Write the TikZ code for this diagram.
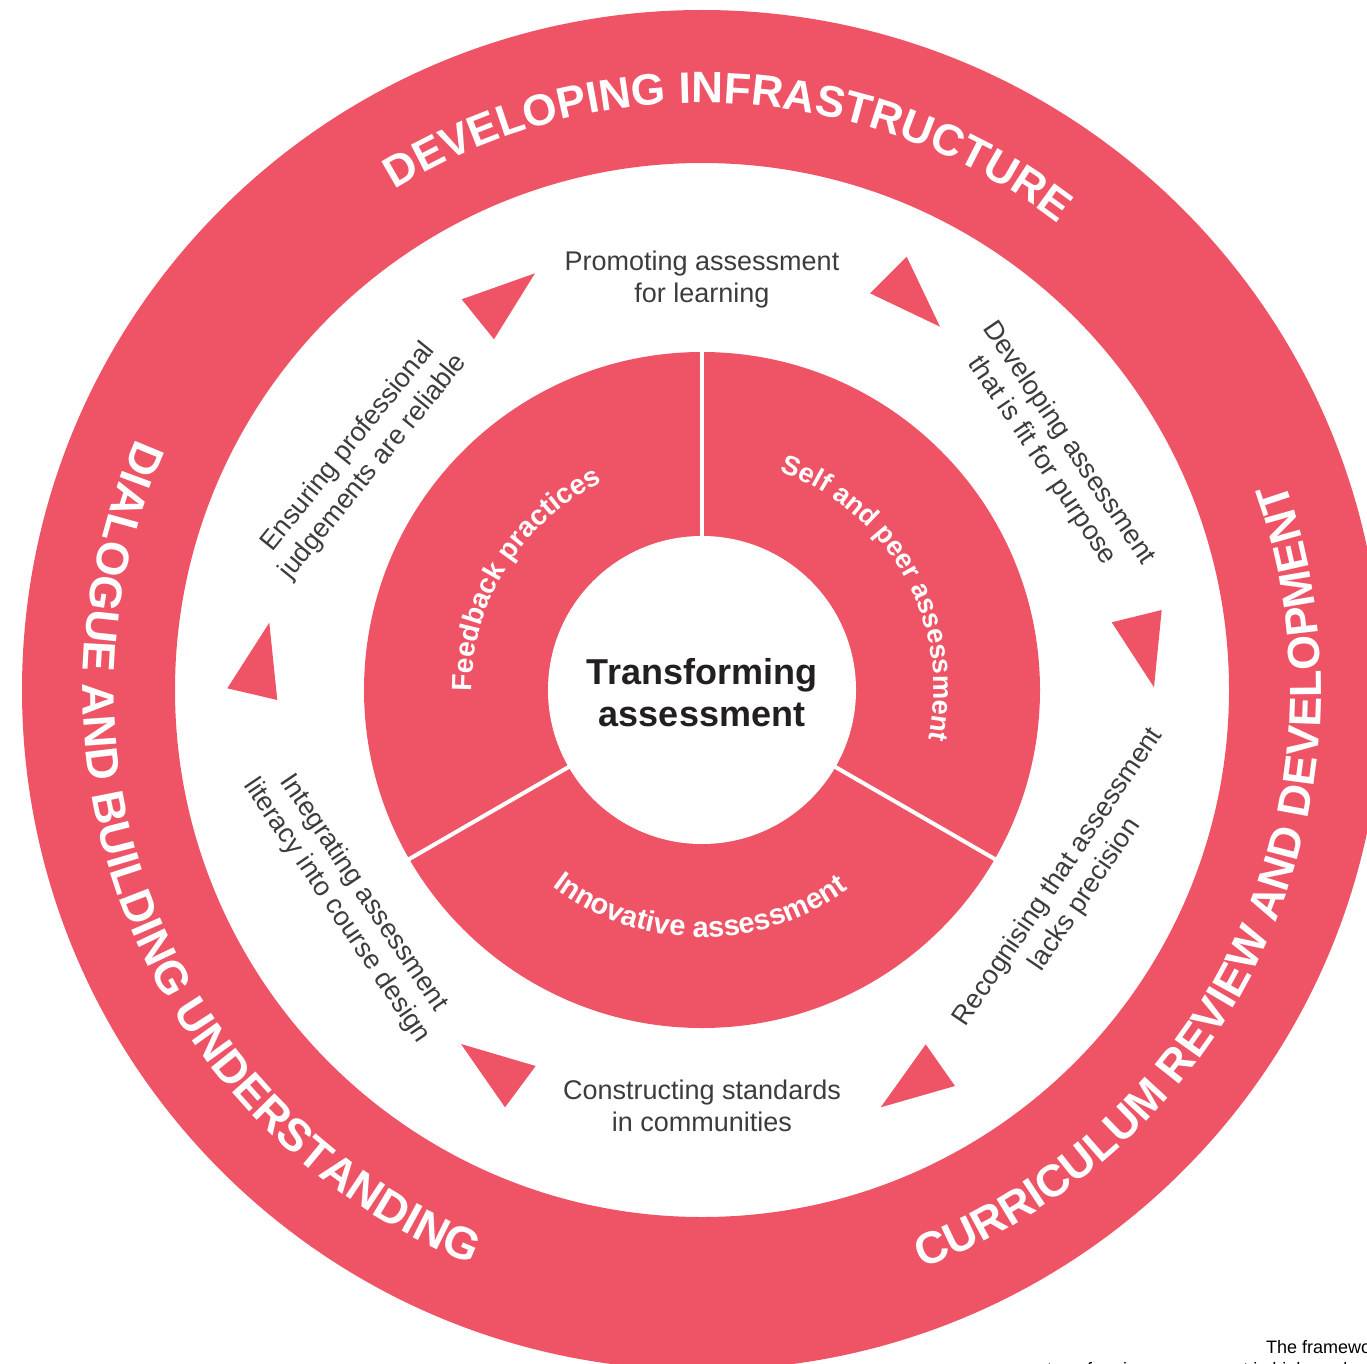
\documentclass[tikz,border=0pt]{standalone}
\usepackage{fontspec}
\setmainfont{Liberation Sans}
\usetikzlibrary{decorations.text}
\definecolor{ringred}{RGB}{239,84,102}
\definecolor{txtgray}{RGB}{60,60,60}
\definecolor{titleblack}{RGB}{35,31,32}
\begin{document}
\begin{tikzpicture}[x=1pt,y=1pt,
  cycletext/.style={font=\fontsize{27}{32}\selectfont, text=txtgray, align=center, inner sep=0pt},
  arrowtri/.style={fill=ringred},
  divider/.style={draw=white, line width=4pt},
  captiontext/.style={font=\fontsize{18}{21}\selectfont, text=black, inner sep=0pt},
]
\useasboundingbox (0,-1364) rectangle (1367,0);
\clip (0,-1364) rectangle (1367,0);
\coordinate (C) at (702,-690);
\begin{scope}[shift={(C)}]
  % outer ring
  \fill[ringred, even odd rule] (0,0) circle[radius=680pt] (0,0) circle[radius=527pt];
  % inner disc
  \fill[ringred] (0,0) circle[radius=338pt];
  \draw[divider] (90:150pt) -- (90:340pt);
  \draw[divider] (210:150pt) -- (210:340pt);
  \draw[divider] (330:150pt) -- (330:340pt);
  \fill[white] (0,0) circle[radius=154pt];
  % outer ring texts
  \path[decorate, decoration={text along path, text align=center,
     text={|\fontsize{44}{44}\selectfont\bfseries\color{white}|DEVELOPING INFRASTRUCTURE}}]
     (167.1:587pt) arc[start angle=167.1, end angle=7.1, radius=587pt];
  \path[decorate, decoration={text along path, text align=center,
     text={|\fontsize{45}{45}\selectfont\bfseries\color{white}|CURRICULUM REVIEW AND DEVELOPMENT}}]
     (-104.75:619pt) arc[start angle=-104.75, end angle=55.25, radius=619pt];
  \path[decorate, decoration={text along path, text align=center,
     text={|\fontsize{45.5}{45}\selectfont\bfseries\color{white}|DIALOGUE AND BUILDING UNDERSTANDING}}]
     (122.1:619pt) arc[start angle=122.1, end angle=282.1, radius=619pt];
  % inner ring texts
  \path[decorate, decoration={text along path, text align=center,
     text={|\fontsize{28}{28}\selectfont\bfseries\color{white}|Feedback practices}}]
     (218:230pt) arc[start angle=218, end angle=78, radius=230pt];
  \path[decorate, decoration={text along path, text align=center,
     text={|\fontsize{27.3}{28}\selectfont\bfseries\color{white}|Self and peer assessment}}]
     (99:232pt) arc[start angle=99, end angle=-41, radius=232pt];
  \path[decorate, decoration={text along path, text align=center,
     text={|\fontsize{29}{29}\selectfont\bfseries\color{white}|Innovative assessment}}]
     (199.5:247pt) arc[start angle=199.5, end angle=339.5, radius=247pt];
\end{scope}
% centre title
\node[font=\fontsize{36}{42}\selectfont\bfseries, text=titleblack, align=center, inner sep=0pt]
  (title) at (702,-693) {Transforming\\assessment};
% cycle labels
\node[cycletext] (promo) at (702,-280) {Promoting assessment\\for learning};
\node[cycletext, rotate=-56] (fit) at (1055,-452) {Developing assessment\\that is fit for purpose};
\node[cycletext, rotate=56] (prec) at (1072,-886) {Recognising that assessment\\lacks precision};
\node[cycletext] (stand) at (702,-1106) {Constructing standards\\in communities};
\node[cycletext, rotate=-56] (lit) at (350,-902) {Integrating assessment\\literacy into course design};
\node[cycletext, rotate=51] (judg) at (361,-457) {Ensuring professional\\judgements are reliable};
% triangles
\fill[arrowtri] (461.7,-299.3) -- (535,-273.3) -- (494,-339.3) -- cycle;
\fill[arrowtri] (906.7,-256.7) -- (870,-293.3) -- (940,-326.7) -- cycle;
\fill[arrowtri] (1111.7,-622.3) -- (1161.7,-610) -- (1154,-687.3) -- cycle;
\fill[arrowtri] (269.3,-622.7) -- (227.3,-688.3) -- (277.3,-700) -- cycle;
\fill[arrowtri] (461,-1044) -- (535.7,-1066) -- (505,-1107.3) -- cycle;
\fill[arrowtri] (925.7,-1044.3) -- (955,-1086) -- (880.7,-1107.3) -- cycle;
% caption (cut off at the edge)
\node[captiontext, anchor=base west] (cap1) at (1266,-1353) {The framework for};
\node[captiontext, anchor=base west] (cap2) at (1047,-1375) {transforming assessment in higher education};
\end{tikzpicture}
\end{document}
